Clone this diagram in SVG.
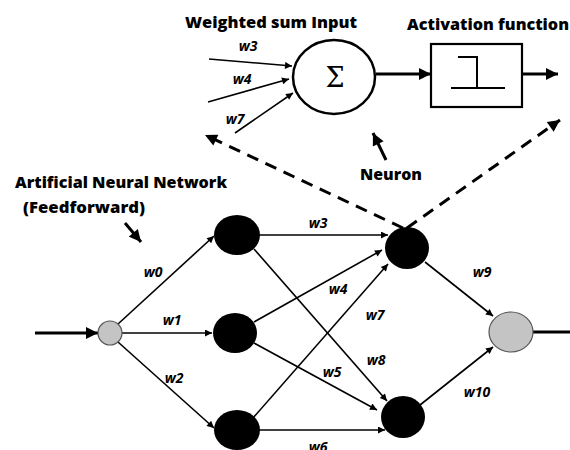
<svg xmlns="http://www.w3.org/2000/svg" width="570" height="450" viewBox="0 0 570 450">
  <defs>
    <marker id="tip" viewBox="0 0 10 10" refX="10" refY="5" markerWidth="9" markerHeight="7" markerUnits="userSpaceOnUse" orient="auto">
      <path d="M0,0 L10,5 L0,10 z" fill="#000"/>
    </marker>
    <marker id="tipBig" viewBox="0 0 10 10" refX="10" refY="5" markerWidth="14" markerHeight="12" markerUnits="userSpaceOnUse" orient="auto">
      <path d="M0,0 L10,5 L0,10 z" fill="#000"/>
    </marker>
    <style>
      .title { font-family: "Open Sans", "Liberation Sans", sans-serif; font-weight: 800; font-size: 16px; fill: #000; }
      .w { font-family: "Open Sans", "Liberation Sans", sans-serif; font-weight: bold; font-style: italic; font-size: 14px; fill: #000; }
      .edge { stroke: #000; stroke-width: 1.6; fill: none; marker-end: url(#tip); }
      .thick { stroke: #000; stroke-width: 3; fill: none; marker-end: url(#tipBig); }
      .dash { stroke: #000; stroke-width: 3; fill: none; stroke-dasharray: 12 8; marker-end: url(#tipBig); }
      .hidden { fill: #000; }
      .io { fill: #c4c4c4; stroke: #555; stroke-width: 1.2; }
    </style>
  </defs>

  <!-- titles -->
  <text class="title" x="185" y="28" textLength="172" lengthAdjust="spacingAndGlyphs">Weighted sum Input</text>
  <text class="title" x="407" y="30" textLength="162" lengthAdjust="spacingAndGlyphs">Activation function</text>
  <text class="title" x="360" y="180" textLength="62" lengthAdjust="spacingAndGlyphs">Neuron</text>
  <text class="title" x="15" y="188" textLength="212" lengthAdjust="spacingAndGlyphs">Artificial Neural Network</text>
  <text class="title" x="23" y="213" textLength="122" lengthAdjust="spacingAndGlyphs">(Feedforward)</text>

  <!-- neuron detail -->
  <g id="sum">
    <ellipse cx="334" cy="77" rx="41" ry="37" fill="#fff" stroke="#000" stroke-width="2.5"/>
    <text x="335" y="87" text-anchor="middle" font-family="DejaVu Serif, Liberation Serif, serif" font-size="27" fill="#000">Σ</text>
  </g>
  <g id="activation">
    <rect x="431" y="44" width="91" height="63" fill="#fff" stroke="#000" stroke-width="2.2"/>
    <polyline points="458,57 477,57 477,88" fill="none" stroke="#000" stroke-width="2"/>
    <line x1="451" y1="88" x2="505" y2="88" stroke="#000" stroke-width="2"/>
  </g>

  <g id="neuron-detail-connectors">
    <line class="edge" x1="209" y1="59" x2="292" y2="66"/>
    <line class="edge" x1="208" y1="102" x2="289" y2="79"/>
    <line class="edge" x1="235" y1="133" x2="293" y2="93"/>
    <line class="thick" x1="376" y1="74" x2="431" y2="74"/>
    <line class="thick" x1="522" y1="74" x2="558" y2="74"/>
    <line class="dash" x1="403" y1="228" x2="205" y2="135"/>
    <line class="dash" x1="407" y1="228" x2="560" y2="120"/>
    <line class="thick" x1="386" y1="160" x2="373" y2="133"/>
    <line class="thick" x1="125" y1="223" x2="141" y2="242"/>
  </g>

  <text class="w" x="248" y="51" text-anchor="middle">w3</text>
  <text class="w" x="242" y="84" text-anchor="middle">w4</text>
  <text class="w" x="235" y="124" text-anchor="middle">w7</text>

  <!-- network connectors -->
  <g id="connectors">
    <line class="thick" x1="35" y1="333" x2="98" y2="333"/>
    <line class="edge" x1="118" y1="324" x2="214" y2="236"/>
    <line class="edge" x1="122" y1="333" x2="212" y2="333"/>
    <line class="edge" x1="118" y1="342" x2="214" y2="428"/>
    <line class="edge" x1="259" y1="235" x2="388" y2="235"/>
    <line class="edge" x1="254" y1="249" x2="387" y2="401"/>
    <line class="edge" x1="254" y1="322" x2="382" y2="250"/>
    <line class="edge" x1="254" y1="343" x2="377" y2="410"/>
    <line class="edge" x1="253" y1="418" x2="388" y2="264"/>
    <line class="edge" x1="259" y1="430" x2="385" y2="430"/>
    <line class="edge" x1="425" y1="262" x2="493" y2="316"/>
    <line class="edge" x1="420" y1="405" x2="493" y2="347"/>
    <line x1="533" y1="332" x2="570" y2="332" stroke="#000" stroke-width="3"/>
  </g>

  <!-- nodes -->
  <g id="input"><circle class="io" cx="110" cy="333" r="12"/></g>
  <g id="h1a"><ellipse class="hidden" cx="237" cy="235" rx="23" ry="20"/></g>
  <g id="h1b"><ellipse class="hidden" cx="235" cy="333" rx="22" ry="20"/></g>
  <g id="h1c"><ellipse class="hidden" cx="237" cy="430" rx="23" ry="20"/></g>
  <g id="h2a"><ellipse class="hidden" cx="407" cy="248" rx="22" ry="21"/></g>
  <g id="h2b"><ellipse class="hidden" cx="403" cy="417" rx="22" ry="21"/></g>
  <g id="output"><ellipse class="io" cx="511" cy="332" rx="22" ry="20"/></g>

  <!-- weights -->
  <text class="w" x="153" y="277" text-anchor="middle">w0</text>
  <text class="w" x="172" y="325" text-anchor="middle">w1</text>
  <text class="w" x="174" y="383" text-anchor="middle">w2</text>
  <text class="w" x="318" y="228" text-anchor="middle">w3</text>
  <text class="w" x="338" y="294" text-anchor="middle">w4</text>
  <text class="w" x="375" y="320" text-anchor="middle">w7</text>
  <text class="w" x="376" y="365" text-anchor="middle">w8</text>
  <text class="w" x="332" y="377" text-anchor="middle">w5</text>
  <text class="w" x="318" y="452" text-anchor="middle">w6</text>
  <text class="w" x="482" y="277" text-anchor="middle">w9</text>
  <text class="w" x="477" y="397" text-anchor="middle">w10</text>
</svg>
